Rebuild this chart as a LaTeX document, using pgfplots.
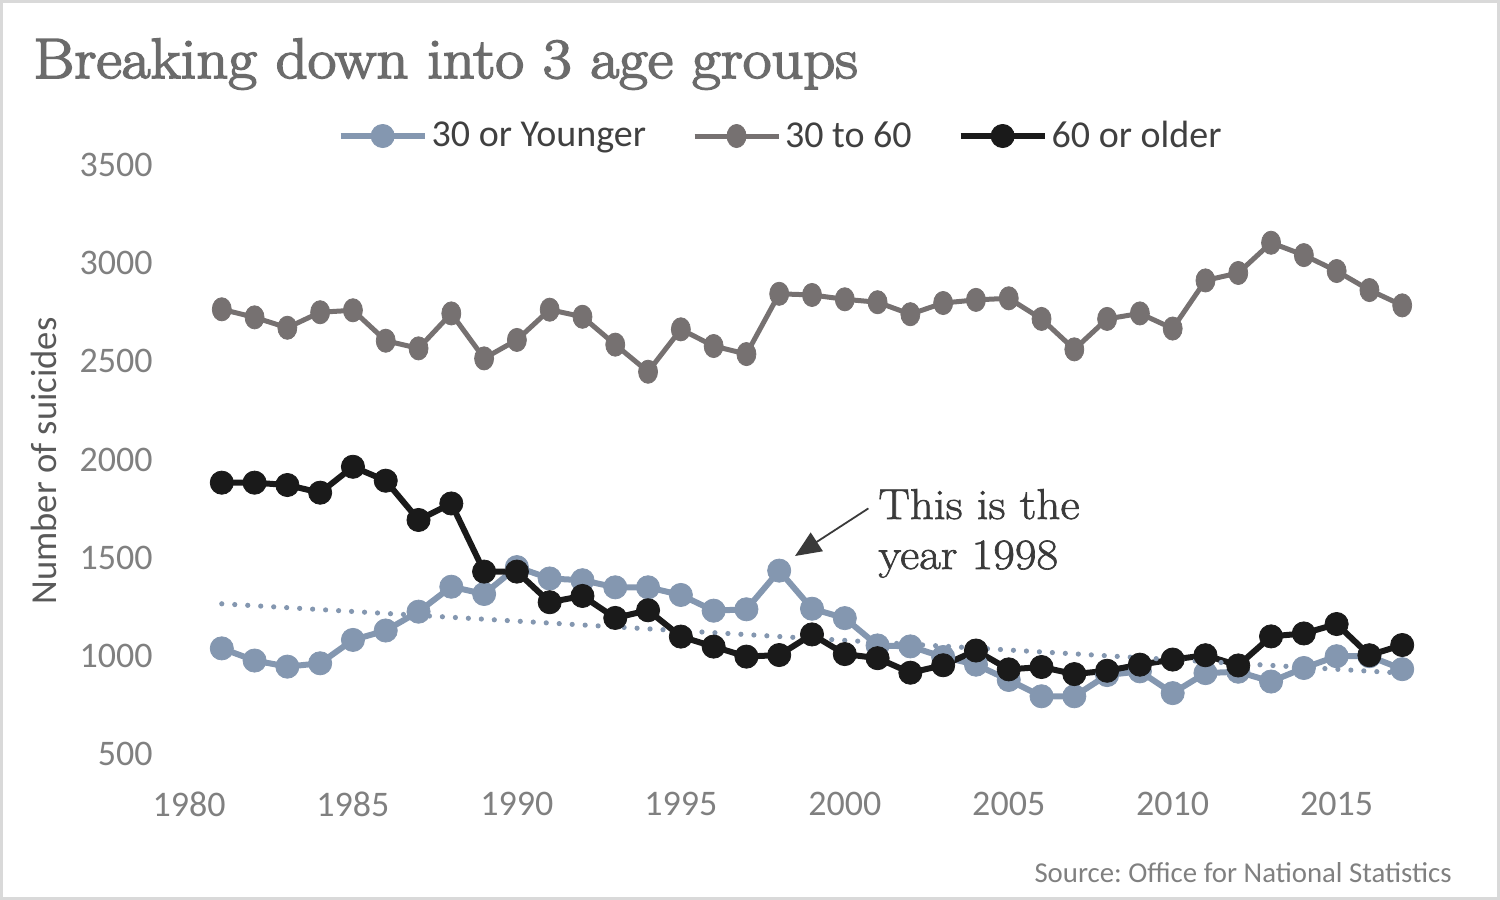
\documentclass[border=0pt]{standalone}
\usepackage{pgfplots}
\pgfplotsset{compat=1.18}
\usepackage{pgfplotstable}
\usepackage{fontspec}
\usetikzlibrary{arrows.meta}
\newfontfamily\carlito{Carlito}
\newfontfamily\titlefont{Latin Modern Roman}[FakeBold=3, FakeStretch=1.1]
\newfontfamily\annotfont{Latin Modern Roman}[FakeBold=1.5, FakeStretch=1.09]
\frenchspacing
\definecolor{young}{HTML}{8497B0}
\definecolor{mid}{HTML}{767171}
\definecolor{old}{HTML}{1A1A1A}
\definecolor{titlegray}{HTML}{6B6B6B}
\definecolor{tickgray}{HTML}{808080}
\definecolor{labgray}{HTML}{595959}
\definecolor{leggray}{HTML}{404040}
\definecolor{annot}{HTML}{3A3A3A}
\definecolor{framegray}{HTML}{D9D9D9}

\pgfplotstableread{
year young mid old
1981 1038 2765 1882
1982 976 2724 1882
1983 945 2671 1870
1984 962 2750 1831
1985 1081 2760 1963
1986 1129 2605 1892
1987 1225 2566 1692
1988 1352 2744 1776
1989 1315 2515 1429
1990 1452 2609 1429
1991 1394 2763 1273
1992 1385 2727 1305
1993 1349 2585 1193
1994 1349 2447 1232
1995 1310 2663 1098
1996 1230 2578 1047
1997 1237 2537 996
1998 1434 2844 1004
1999 1240 2838 1109
2000 1192 2816 1009
2001 1053 2801 988
2002 1048 2740 914
2003 994 2797 952
2004 955 2813 1027
2005 877 2821 931
2006 794 2716 943
2007 794 2561 907
2008 902 2716 924
2009 921 2744 955
2010 810 2667 981
2011 912 2912 1003
2012 919 2950 951
2013 869 3104 1099
2014 938 3041 1114
2015 998 2960 1162
2016 998 2863 1003
2017 932 2785 1055
}\data

\begin{document}
\begin{tikzpicture}
\path[use as bounding box] (0,0) rectangle (750pt,450pt);
\draw[framegray, line width=1.5pt] (0.75pt,0.75pt) rectangle (749.25pt,449.25pt);
\begin{axis}[
  at={(94.5pt,73pt)}, anchor=south west,
  scale only axis, width=623pt, height=294.5pt,
  xmin=1980, xmax=2018, ymin=500, ymax=3500,
  xtick={1980,1985,...,2015}, ytick={500,1000,...,3500},
  axis line style={draw=none}, tick style={draw=none},
  /pgf/number format/assume math mode=true,
  /pgf/number format/1000 sep={},
  ticklabel style={font=\carlito\fontsize{18}{21}\selectfont, text=tickgray, inner sep=0pt},
  yticklabel style={xshift=-18pt},
  xticklabel style={yshift=-19pt},
  ylabel={Number of suicides},
  ylabel style={at={(axis description cs:-0.1164,0.4975)}, anchor=center, font=\carlito\fontsize{18.3}{21}\selectfont, text=labgray},
  legend columns=3,
  legend cell align=left,
  legend style={draw=none, fill=none, at={(axis description cs:0.119,1.0492)}, anchor=west,
    font=\carlito\fontsize{19}{22}\selectfont, text=leggray, inner sep=0pt,
    /tikz/every even column/.append style={column sep=21pt}},
  legend image code/.code={\draw[mark repeat=2,mark phase=2,#1] plot coordinates {(0pt,0pt) (21pt,0pt) (42pt,0pt)};},
  clip=false,
]
\addplot[color=young, line width=3pt, mark=*, mark size=5.8pt, mark options={solid, line width=0.4pt}] table[x=year, y=young] {\data};
\addlegendentry{30 or Younger}
\addplot[color=mid, line width=2.5pt, mark=*, mark size=5.8pt, mark options={solid, line width=0.4pt, xscale=0.82}] table[x=year, y=mid] {\data};
\addlegendentry{30 to 60}
\addplot[color=old, line width=3pt, mark=*, mark size=5.8pt, mark options={solid, line width=0.4pt}] table[x=year, y=old] {\data};
\addlegendentry{60 or older}
\addplot[color=young, line width=2.6pt, line cap=round, dash pattern=on 0pt off 6.5pt, forget plot] coordinates {(1981,1265) (2017,912)};
\end{axis}
\node[anchor=base west, inner sep=0pt, font=\titlefont\fontsize{28.4}{34}\selectfont, text=titlegray] at (16.5pt,411pt) {Breaking down into 3 age groups};
\node[anchor=base west, inner sep=0pt, font=\annotfont\fontsize{21.6}{26}\selectfont, text=annot] at (439pt,190.5pt) {This is the};
\node[anchor=base west, inner sep=0pt, font=\annotfont\fontsize{21.6}{26}\selectfont, text=annot] at (439pt,165.5pt) {year 1998};
\draw[annot, line width=0.9pt, -{Triangle[length=13pt,width=11pt]}] (434.2pt,195.8pt) -- (397.5pt,172pt);
\node[anchor=base east, inner sep=0pt, font=\carlito\fontsize{14.4}{17}\selectfont, text=tickgray] at (726pt,9pt) {Source: Office for National Statistics};
\end{tikzpicture}
\end{document}
